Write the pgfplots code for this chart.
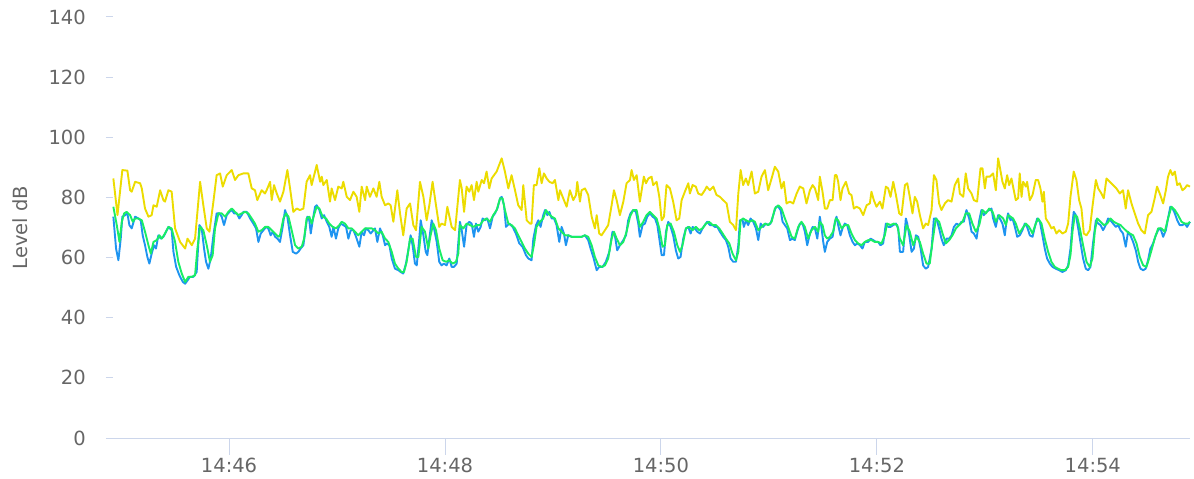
\documentclass[border=0pt]{standalone}
\usepackage{pgfplots}
\pgfplotsset{compat=1.18}
\usepackage{pgfplotstable}
\usepackage{fontspec}
\setmainfont{DejaVu Sans}
\definecolor{ylw}{RGB}{236,220,0}
\definecolor{blu}{RGB}{30,148,240}
\definecolor{grn}{RGB}{25,238,100}
\definecolor{txt}{RGB}{102,102,102}
\definecolor{axc}{RGB}{204,214,235}

\pgfplotstableread{
x y
55.7 86.3
58.0 74.1
60.7 89.1
63.5 88.9
65.0 82.4
65.9 81.9
67.8 85.2
70.6 84.7
71.5 83.0
73.3 76.3
75.2 73.6
77.0 74.1
78.0 77.4
79.8 76.9
81.7 82.4
83.5 79.1
84.4 78.6
86.3 82.4
88.1 81.9
90.0 69.7
92.8 65.2
95.6 63.0
96.9 66.3
99.3 64.1
101.1 66.3
103.9 85.2
105.7 77.4
107.6 69.7
109.1 68.6
111.3 78.6
113.1 87.4
115.0 88.0
116.5 83.6
118.7 87.4
121.5 89.1
123.3 85.8
125.2 87.4
128.0 88.0
130.7 88.0
132.6 83.0
134.4 82.4
135.7 79.1
138.1 82.4
140.0 81.3
140.9 82.4
142.8 85.2
143.7 79.1
145.0 84.1
146.5 81.3
148.3 78.6
150.2 81.9
152.4 89.1
153.9 83.0
155.7 75.2
157.6 76.3
159.4 75.8
161.3 76.3
163.1 85.2
165.0 87.4
165.9 84.1
167.8 88.6
168.7 90.8
170.6 85.2
171.5 86.9
172.4 84.1
174.3 85.8
176.1 78.6
177.0 83.0
178.9 79.1
180.7 83.6
182.6 83.0
183.5 85.2
185.4 80.2
187.2 79.1
189.1 81.9
190.9 80.2
192.4 75.2
193.7 83.6
195.6 79.1
196.5 83.6
198.3 80.2
200.2 83.0
202.0 80.2
203.5 85.2
204.8 80.2
206.7 77.4
208.5 78.0
209.8 77.4
211.3 71.9
213.5 82.4
215.0 74.7
216.8 67.4
218.7 76.3
220.6 78.0
222.4 70.8
223.9 69.1
226.1 85.2
228.0 80.2
229.8 72.4
231.3 77.4
233.1 85.2
235.0 77.4
236.8 70.2
238.1 71.3
240.0 70.8
241.3 76.9
243.7 70.2
245.6 69.1
248.3 85.8
249.3 83.0
250.6 75.2
252.0 83.6
253.5 81.9
254.8 84.1
256.1 79.1
257.6 85.2
258.5 81.9
260.4 85.8
261.7 84.7
263.1 88.6
264.6 83.0
265.9 86.3
268.7 88.6
271.5 93.0
273.3 88.6
275.2 83.0
277.0 87.4
278.9 82.4
280.7 77.4
282.6 75.8
283.5 84.1
285.4 72.4
287.2 71.3
288.1 71.3
289.4 84.1
290.9 84.1
292.4 89.7
293.7 84.7
295.0 88.0
296.5 86.3
298.0 85.2
299.8 84.7
301.1 85.8
303.0 79.1
303.9 82.4
305.7 79.7
307.6 76.9
309.4 82.4
311.3 79.1
312.8 80.8
313.5 85.2
315.0 78.6
315.9 82.4
317.8 83.0
319.6 80.8
321.5 73.6
323.3 69.7
324.3 74.1
325.7 68.0
327.0 67.4
328.9 69.1
330.7 70.8
332.6 77.4
333.9 82.4
335.4 79.1
337.2 74.1
339.1 78.6
340.9 84.7
342.8 85.8
343.7 89.1
345.0 85.8
346.5 87.4
348.3 78.6
350.5 86.9
351.7 84.7
353.0 86.3
354.8 86.9
355.7 84.1
357.6 85.2
359.1 80.2
360.4 72.4
361.7 73.6
363.1 84.1
365.0 83.0
366.8 78.6
368.7 72.4
370.2 73.0
371.5 79.1
373.3 81.9
375.2 84.7
376.1 81.3
377.6 84.1
379.4 83.6
380.7 81.3
382.6 80.8
384.4 82.4
385.4 83.6
387.2 82.4
389.1 83.6
390.9 80.8
392.8 80.2
394.6 79.1
396.5 78.0
398.3 71.9
400.2 70.8
401.7 69.1
403.0 81.3
404.3 89.1
405.7 84.1
407.2 86.3
408.5 84.1
410.4 88.6
412.2 81.3
414.1 81.9
415.9 86.9
417.8 89.1
419.6 82.4
421.5 86.3
423.3 90.2
425.2 88.6
427.0 83.0
428.3 85.2
429.8 78.0
431.7 78.6
433.5 78.0
435.4 81.3
437.2 83.6
439.1 83.0
440.9 78.0
442.8 82.4
444.3 84.1
445.6 83.0
447.4 79.1
448.3 86.9
449.8 81.9
451.1 76.3
452.4 76.3
453.9 79.1
455.4 79.1
456.7 87.4
457.6 87.4
458.5 85.2
459.8 79.1
460.9 83.0
462.8 85.2
464.6 81.3
465.9 80.8
467.2 76.3
468.7 76.9
470.6 76.3
472.4 74.1
474.3 77.4
476.1 78.0
477.0 81.9
478.3 79.1
479.8 76.9
481.7 78.6
483.1 76.3
485.0 83.6
486.3 83.0
487.6 80.2
489.1 85.2
490.6 80.8
492.4 74.7
493.7 74.1
495.6 84.1
496.9 84.7
498.3 80.2
499.8 74.7
501.1 80.2
502.4 78.6
503.9 74.1
505.7 69.7
507.2 71.3
508.5 70.8
510.4 75.8
511.7 87.4
513.1 85.8
514.6 78.0
515.9 75.8
517.8 78.0
519.6 79.1
521.5 78.6
523.3 84.1
525.2 86.3
526.1 81.3
528.0 80.2
529.4 88.0
530.7 83.0
532.6 81.3
533.9 79.1
535.7 78.6
537.6 89.7
538.7 89.7
540.0 83.0
540.9 86.9
542.8 86.9
544.6 88.0
546.1 82.4
547.4 93.0
548.3 90.2
549.8 85.2
551.1 83.0
552.4 87.4
553.5 84.1
554.8 86.3
555.7 83.6
557.2 79.1
558.5 79.7
559.4 88.0
560.4 80.2
561.3 85.2
562.8 83.6
563.5 85.2
565.0 79.1
566.5 80.8
568.3 85.8
569.6 85.8
570.9 83.0
572.0 78.6
572.8 81.9
573.9 73.0
575.7 71.3
577.0 69.7
578.3 70.2
579.8 68.0
581.3 69.1
583.1 68.0
585.0 68.6
586.3 71.3
587.6 80.2
589.4 88.6
590.9 85.8
592.4 79.1
593.7 76.3
595.0 68.0
596.5 67.4
598.3 69.1
599.8 76.9
601.7 85.8
603.0 83.0
604.8 81.3
606.1 79.7
607.6 86.3
609.4 85.2
611.3 84.1
613.1 83.0
615.0 81.3
616.8 82.4
618.3 76.3
619.6 82.4
621.5 78.0
623.3 74.7
625.2 71.3
627.0 69.1
628.9 68.0
630.7 74.1
632.6 75.2
634.4 79.7
635.7 83.6
637.2 81.3
639.1 78.0
640.6 82.4
641.8 86.9
643.1 89.1
644.3 87.4
645.6 88.6
646.9 84.1
648.3 84.7
649.8 82.4
651.1 83.0
652.4 84.1
654.0 83.6
}\ylwdata

\pgfplotstableread{
x y
55.7 73.6
57.2 63.0
58.5 59.1
59.8 66.3
60.7 73.6
62.2 74.1
63.5 74.7
64.6 70.8
65.9 69.7
67.8 73.6
69.6 73.0
70.9 72.4
72.0 67.4
73.3 64.1
74.6 60.2
75.7 58.0
77.0 61.3
78.3 64.1
79.4 63.0
80.7 67.4
82.0 66.3
83.5 66.9
85.0 68.6
86.3 70.2
88.1 69.1
89.1 61.9
90.6 56.9
92.4 54.1
94.3 51.9
95.6 51.3
96.9 52.4
98.3 53.6
100.2 53.6
102.0 55.2
103.5 70.8
104.8 69.7
106.1 63.0
107.2 58.6
108.5 56.3
109.8 59.7
111.3 67.4
113.1 74.7
114.6 74.7
115.9 73.6
117.2 70.8
118.7 74.1
120.2 75.2
121.5 75.8
122.8 74.7
124.3 74.7
125.7 73.0
127.0 74.1
128.0 75.2
129.8 75.2
131.7 73.0
133.5 71.3
135.0 69.7
136.3 65.2
137.6 68.0
139.1 69.1
140.6 70.2
141.8 69.7
143.1 67.4
144.3 68.6
145.6 66.9
146.9 66.3
148.3 65.2
149.8 70.2
151.1 75.8
152.4 73.6
153.9 67.4
155.4 61.9
157.2 61.3
158.5 61.9
159.8 63.0
161.3 64.1
162.8 70.8
163.5 73.6
164.6 72.4
165.4 68.0
166.5 72.4
167.8 76.9
168.7 77.4
170.2 75.8
171.5 73.0
172.8 74.1
174.3 71.9
175.7 70.2
177.0 66.9
178.0 70.2
179.4 66.3
180.7 69.7
182.0 71.3
183.5 70.8
185.0 70.2
186.3 66.3
187.6 69.1
189.1 69.1
190.6 66.9
192.4 63.6
193.7 68.6
195.0 67.4
196.1 69.7
197.4 69.1
198.7 68.0
200.2 69.1
201.1 69.7
202.4 65.2
203.9 69.7
205.4 67.4
206.7 64.1
207.6 64.7
209.1 64.1
210.4 59.7
212.2 56.3
214.1 55.8
215.4 55.2
216.8 54.7
218.3 58.0
219.6 62.4
220.9 67.4
222.0 64.1
223.3 58.0
224.3 57.4
225.7 66.3
226.5 72.4
228.0 67.4
229.3 61.9
230.2 60.8
231.3 66.3
232.6 72.4
233.9 69.7
235.4 65.2
236.8 58.6
238.1 57.4
239.4 58.0
240.9 57.4
242.4 59.7
243.7 56.9
245.0 56.9
246.5 58.0
248.3 71.9
249.3 69.1
250.6 63.6
252.0 70.8
253.5 71.9
254.8 71.3
256.1 66.9
257.2 71.3
258.5 68.6
259.8 70.2
260.9 73.0
262.2 72.4
263.5 73.0
265.0 69.7
266.5 73.6
267.8 74.7
269.1 76.3
270.6 79.7
271.5 80.2
272.8 77.4
273.9 70.2
275.7 71.3
277.6 70.2
279.4 68.0
281.3 64.7
283.1 63.6
285.0 60.8
286.3 59.7
288.1 59.1
289.1 66.3
290.6 70.8
291.9 72.4
293.1 70.2
294.6 74.1
295.6 75.8
296.9 74.1
298.0 75.2
299.3 73.0
300.6 73.0
302.0 70.8
303.5 65.2
304.8 70.2
306.1 68.0
307.2 64.1
308.5 67.4
310.4 66.9
312.2 66.9
314.1 66.9
315.9 66.9
317.8 67.4
319.6 65.8
320.9 63.0
322.4 60.2
324.3 55.8
325.7 56.9
327.6 56.9
329.4 58.6
331.3 61.9
333.1 68.6
334.4 67.4
335.7 62.4
337.2 64.1
339.1 65.8
340.6 67.4
341.8 72.4
343.1 74.7
344.6 75.8
346.1 75.2
347.4 71.3
348.3 66.9
349.8 70.8
351.1 71.3
352.4 73.6
353.9 74.7
355.4 73.6
356.7 73.0
358.0 70.8
359.1 66.3
360.4 60.8
361.7 60.8
362.8 68.6
364.1 71.9
365.4 70.2
366.8 67.4
368.3 62.4
369.6 59.7
370.9 60.2
372.4 66.3
373.9 69.7
375.2 70.2
376.5 68.0
377.6 70.2
378.9 69.7
380.2 68.6
381.7 68.0
383.1 69.7
384.4 70.8
385.7 71.9
387.2 70.8
388.7 70.8
390.0 70.2
391.3 70.2
392.8 68.6
394.6 66.9
396.1 65.8
397.4 63.6
398.7 59.7
400.2 58.6
401.7 58.6
403.0 64.1
403.9 72.4
405.4 72.4
406.1 70.2
407.2 72.4
408.5 70.8
409.8 73.0
411.3 71.9
412.8 69.7
414.1 65.8
415.4 71.3
416.8 70.2
418.3 71.3
419.6 70.8
420.9 71.3
422.4 74.1
423.9 76.9
425.2 76.9
426.5 75.8
427.6 71.9
428.9 70.8
430.2 69.7
431.7 65.8
433.1 66.3
434.4 65.8
435.7 68.6
437.2 71.3
438.7 71.3
440.0 68.6
441.3 64.1
442.8 68.0
444.3 70.2
445.6 69.7
446.9 66.3
448.3 73.6
449.3 69.7
450.2 65.2
451.1 61.9
452.4 65.2
453.9 66.3
455.4 66.9
456.7 71.9
457.6 73.6
458.5 70.8
459.8 67.4
460.9 69.7
462.2 71.3
463.5 70.8
465.0 67.4
466.5 65.2
467.8 64.1
469.1 64.7
470.6 64.1
472.0 63.0
473.3 65.2
475.2 65.2
476.5 66.3
478.0 65.8
479.4 65.2
480.7 65.2
482.0 64.1
483.5 64.7
485.0 71.3
486.3 70.2
487.6 70.2
489.1 70.8
490.6 71.3
491.9 69.7
492.8 61.9
494.6 61.9
496.1 73.0
496.9 71.3
498.0 67.4
499.3 61.9
500.6 63.0
501.7 67.4
503.0 66.9
504.3 63.0
505.7 57.4
507.2 56.3
508.5 56.9
510.4 63.0
511.7 73.0
513.1 73.0
514.6 69.7
515.9 66.3
517.2 64.1
518.7 66.3
520.2 66.3
521.5 67.4
522.8 70.2
524.3 71.3
525.7 70.8
527.0 71.9
528.3 71.9
529.8 75.8
531.3 73.0
532.6 68.6
533.9 68.0
535.4 66.3
536.9 72.4
538.1 75.8
539.4 74.1
540.9 75.2
542.4 75.8
543.7 76.3
544.6 73.0
546.1 70.2
547.4 74.1
548.3 73.0
549.8 71.3
551.1 67.4
552.0 71.9
552.9 74.7
554.3 72.4
555.4 73.0
556.7 70.2
558.0 66.9
559.4 67.4
560.9 69.1
562.2 71.3
563.5 70.2
565.0 67.4
566.5 66.9
567.8 70.2
569.1 73.0
570.6 71.9
572.0 67.4
573.3 63.0
574.6 59.7
576.1 58.0
577.6 56.9
579.4 56.3
581.3 55.8
583.1 55.2
585.0 55.8
586.3 57.4
587.6 63.0
588.7 71.3
589.4 75.2
590.6 74.1
591.9 69.7
593.1 65.2
594.6 59.7
596.1 56.3
597.4 55.8
598.7 56.9
600.2 65.2
601.7 72.4
603.0 71.3
604.3 70.8
605.7 69.1
607.2 70.8
608.5 73.0
609.8 72.4
611.3 71.3
612.8 70.2
614.1 70.8
615.4 69.1
616.8 68.0
618.3 63.6
619.6 68.6
620.9 67.4
622.4 65.2
623.9 62.4
625.2 58.6
626.5 56.3
628.0 55.8
629.4 56.3
630.7 59.1
632.0 63.0
633.5 64.7
635.0 67.4
636.3 69.1
637.6 69.7
639.1 66.9
640.6 69.1
641.8 73.0
643.1 76.9
644.3 76.3
645.6 74.7
646.9 72.4
648.3 70.8
649.8 70.8
651.1 71.3
652.4 70.2
654.0 71.9
}\bludata

\pgfplotstableread{
x y
55.7 76.9
57.6 70.8
59.1 65.2
60.4 71.9
61.7 74.7
63.1 75.2
65.0 74.1
66.5 71.9
67.8 73.0
69.6 73.0
71.5 72.4
73.3 68.6
75.2 64.1
76.5 61.3
78.0 65.2
79.8 65.8
81.3 67.4
82.6 66.3
84.4 68.0
86.3 70.2
88.1 69.7
90.0 65.2
91.8 58.6
93.7 54.7
95.6 51.9
97.4 53.6
99.3 53.6
101.1 54.1
102.4 63.0
103.9 70.2
105.7 69.1
107.6 64.1
109.4 58.6
110.9 60.8
112.2 69.7
114.1 74.7
115.9 74.7
117.8 73.6
119.6 75.2
121.5 76.3
123.3 75.2
125.2 74.1
127.0 74.7
128.9 75.2
130.7 74.7
132.6 73.0
134.4 71.3
136.3 68.6
138.1 69.1
140.0 70.2
141.8 70.2
143.7 69.1
145.6 68.0
147.4 66.9
148.3 67.4
150.2 73.0
151.7 74.7
153.0 73.6
154.8 69.1
156.7 64.1
158.5 63.0
160.4 63.6
161.7 66.3
163.1 73.0
164.6 73.6
165.9 71.3
167.2 74.1
168.7 76.9
170.2 76.3
172.0 73.6
173.9 73.0
175.7 71.3
177.6 70.2
179.4 69.7
181.3 70.8
182.6 71.9
184.4 71.3
186.3 69.7
188.1 69.7
190.0 68.6
191.8 67.4
193.7 68.6
195.6 69.7
197.4 69.7
199.3 69.7
201.1 69.1
203.0 68.0
204.8 68.6
206.7 66.3
208.5 65.2
210.4 61.9
212.2 58.0
214.1 56.3
215.9 55.2
217.2 55.2
218.7 58.6
220.6 66.3
222.0 66.3
223.9 60.2
225.2 60.2
227.0 70.2
228.9 68.6
230.7 63.0
232.0 67.4
233.5 71.3
235.0 69.1
236.8 63.0
238.7 59.1
240.6 58.6
242.4 59.1
244.3 58.0
246.1 58.6
247.4 61.3
248.3 70.8
250.2 69.7
252.0 71.3
253.9 70.8
255.7 70.2
257.6 70.8
259.4 70.8
261.3 72.4
263.1 73.0
265.0 71.9
266.8 74.1
268.7 75.8
270.6 79.7
272.0 79.7
273.3 75.8
275.2 71.3
277.0 70.8
278.9 69.7
280.7 67.4
282.6 65.2
284.4 63.0
286.3 61.3
288.1 60.2
289.4 64.1
290.9 70.2
292.8 71.9
294.6 73.0
296.1 75.8
297.4 74.7
299.3 73.6
301.1 73.0
303.0 69.7
304.8 68.6
306.7 67.4
308.5 67.4
310.4 66.9
312.2 66.9
314.1 66.9
315.9 66.9
317.8 67.4
319.6 66.9
321.5 64.1
323.3 60.2
325.2 57.4
327.0 56.9
328.9 57.4
330.7 59.7
332.6 66.3
333.9 68.6
335.4 66.3
337.2 64.1
339.1 65.2
340.9 68.6
342.8 73.6
344.6 75.8
346.5 75.8
348.3 70.2
350.2 71.9
352.0 74.1
353.9 75.2
355.7 74.1
357.6 73.0
359.1 69.7
360.9 63.6
362.2 64.1
363.5 70.8
365.4 71.3
367.2 68.6
369.1 64.1
370.6 61.9
372.0 64.1
373.9 69.7
375.7 70.2
377.6 69.1
379.4 70.2
381.3 69.1
383.1 69.7
385.0 71.3
386.8 71.9
388.7 70.8
390.6 70.8
392.4 69.7
394.3 68.0
396.1 66.3
398.0 64.7
399.8 61.3
401.7 59.1
403.0 61.9
404.3 72.4
405.7 73.0
407.2 72.4
409.1 71.9
410.9 72.4
412.2 71.9
414.1 69.1
415.9 70.2
417.8 71.3
419.6 70.8
421.5 71.9
423.3 76.3
425.2 77.4
427.0 76.3
428.9 73.0
430.7 70.2
432.6 66.9
434.4 66.3
436.3 70.2
438.1 71.9
440.0 70.2
441.8 66.3
443.7 69.1
445.6 70.2
447.4 68.6
448.3 71.9
449.8 70.8
451.1 67.4
452.4 66.3
453.9 66.9
455.7 68.6
457.2 73.0
458.5 72.4
460.4 69.7
462.2 70.8
464.1 70.8
465.9 68.0
467.8 65.8
469.6 64.7
471.5 64.1
473.3 65.2
475.2 65.8
477.0 65.8
478.9 65.2
480.7 65.2
482.6 64.7
484.4 67.4
485.7 71.3
487.6 70.8
489.4 71.3
491.3 70.8
492.8 66.3
494.6 64.1
496.5 70.8
498.3 68.6
500.2 64.1
502.0 66.9
503.9 65.2
505.7 61.3
507.6 58.0
509.4 58.0
510.9 65.2
512.8 73.0
514.6 71.9
516.5 68.0
518.3 64.7
520.2 65.8
522.0 67.4
523.9 69.7
525.7 70.8
527.6 71.9
529.4 74.7
531.3 74.7
533.1 71.3
535.0 68.6
536.9 70.8
538.7 75.8
540.6 74.7
542.4 76.3
544.3 75.2
546.1 71.9
548.0 74.1
550.2 73.0
551.7 70.8
553.0 74.1
554.3 73.6
555.7 73.0
557.2 71.3
559.1 68.0
560.9 69.7
562.8 71.3
564.6 70.2
566.5 68.0
568.3 71.3
569.6 73.0
571.5 71.3
573.3 66.3
575.2 61.9
577.0 58.6
578.9 56.9
580.7 56.3
582.6 55.8
584.4 55.8
586.3 56.9
587.6 60.8
588.7 68.6
590.0 74.1
591.3 73.6
592.8 69.7
594.6 64.1
596.5 58.6
598.3 56.9
599.8 59.7
601.1 68.6
602.4 73.0
604.3 71.9
606.1 70.8
608.0 71.3
609.8 73.0
611.7 71.9
613.5 71.3
615.4 70.8
617.2 69.7
619.1 68.6
620.6 68.0
622.4 67.4
624.3 64.7
626.1 60.2
628.0 57.4
629.8 56.9
631.3 59.7
632.6 62.4
634.4 66.3
636.3 69.7
638.1 69.7
640.0 68.6
641.8 73.0
643.7 76.9
645.6 75.8
647.4 74.1
649.3 71.9
651.1 71.3
652.9 71.3
654.0 71.9
}\grndata

\begin{document}
\begin{tikzpicture}
\useasboundingbox (-113bp,-41bp) rectangle (1081bp,438bp);
\begin{axis}[
  at={(0,0)}, anchor=south west,
  scale only axis, width=1077bp, height=421bp,
  xmin=55.5, xmax=654, ymin=0, ymax=140,
  axis x line=none,
  axis y line*=left,
  y axis line style={draw=none},
  xtick=\empty,
  ytick={0,20,40,60,80,100,120,140},
  tick align=outside,
  major tick length=7bp,
  ytick style={draw=axc, line width=1bp},
  /pgf/number format/assume math mode=true,
  yticklabel style={font=\fontsize{19.5bp}{23bp}\selectfont, text=txt, anchor=east, inner sep=0pt, xshift=-20bp},
  ylabel={Level dB},
  every axis y label/.style={at={(axis description cs:0,0.5)}, rotate=90, anchor=center, yshift=93bp, font=\fontsize{19.5bp}{23bp}\selectfont, text=txt},
  clip=false,
]
\addplot[ylw, line width=1.9bp, line join=round] table {\ylwdata};
\addplot[blu, line width=1.9bp, line join=round] table {\bludata};
\addplot[grn, line width=1.9bp, line join=round] table {\grndata};
\end{axis}
\begin{axis}[
  at={(0,0)}, anchor=south west,
  scale only axis, width=1077bp, height=421bp,
  xmin=55.5, xmax=654, ymin=0, ymax=140,
  axis x line*=bottom,
  axis y line=none,
  ytick=\empty,
  x axis line style={draw=axc, line width=1bp},
  xtick={120,240,360,480,600},
  xticklabels={14:46,14:48,14:50,14:52,14:54},
  tick align=outside,
  major tick length=17bp,
  xtick style={draw=axc, line width=1bp},
  xticklabel style={font=\fontsize{19.5bp}{23bp}\selectfont, text=txt, anchor=north, inner sep=0pt, yshift=-3bp},
]
\end{axis}
\end{tikzpicture}
\end{document}
